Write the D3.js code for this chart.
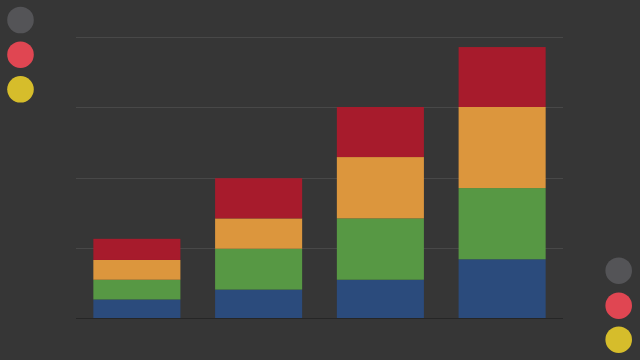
<!DOCTYPE html>
<html>
<head>
<meta charset="utf-8">
<script src="https://cdn.jsdelivr.net/npm/d3@7"></script>
<style>
  html, body { margin: 0; padding: 0; background: #363636; }
  svg { display: block; }
</style>
</head>
<body>
<svg id="chart" width="640" height="360"></svg>
<script>
// Data
const categories = ["A", "B", "C", "D"];
const seriesNames = ["blue", "green", "orange", "red"];
const blueValues   = [2.7, 4.1, 5.5, 8.4];
const greenValues  = [2.8, 5.8, 8.7, 10.1];
const orangeValues = [2.8, 4.3, 8.7, 11.5];
const redValues    = [3.0, 5.7, 7.1, 8.5];
const gridTicks = [0, 10, 20, 30, 40];
const legendColors = ["#545457", "#e04652", "#d6bd2b"];

const colors = { blue: "#2b4b7c", green: "#579844", orange: "#dc963d", red: "#a71b2c" };

const table = categories.map((c, i) => ({
  cat: c, blue: blueValues[i], green: greenValues[i], orange: orangeValues[i], red: redValues[i]
}));

const svg = d3.select("#chart");
svg.append("rect").attr("width", 640).attr("height", 360).attr("fill", "#363636");

const x = d3.scaleBand().domain(categories).range([76, 563]).paddingInner(0.285).paddingOuter(0.1425);
const y = d3.scaleLinear().domain([0, 40]).range([318.5, 36.5]);

// Gridlines
svg.append("g").selectAll("line").data(gridTicks.filter(t => t > 0)).join("line")
  .attr("x1", 76).attr("x2", 563)
  .attr("y1", d => Math.round(y(d)) + 0.5).attr("y2", d => Math.round(y(d)) + 0.5)
  .attr("stroke", "#484848").attr("stroke-width", 1);

// Stacked bars
const stack = d3.stack().keys(seriesNames)(table);
svg.append("g").selectAll("g").data(stack).join("g")
  .attr("fill", d => colors[d.key])
  .selectAll("rect").data(d => d).join("rect")
  .attr("x", d => x(d.data.cat))
  .attr("width", x.bandwidth())
  .attr("y", d => y(d[1]))
  .attr("height", d => y(d[0]) - y(d[1]));

// Baseline
svg.append("line").attr("x1", 76).attr("x2", 563)
  .attr("y1", y(0)).attr("y2", y(0))
  .attr("stroke", "#262626").attr("stroke-width", 1);

// Decorative circles
const leftY = [20, 54.7, 89.3];
const rightY = [270.7, 305.7, 339.7];
svg.append("g").selectAll("circle").data(legendColors).join("circle")
  .attr("cx", 20.5).attr("cy", (d, i) => leftY[i]).attr("r", 13.3).attr("fill", d => d);
svg.append("g").selectAll("circle").data(legendColors).join("circle")
  .attr("cx", 618.7).attr("cy", (d, i) => rightY[i]).attr("r", 13.3).attr("fill", d => d);
</script>
</body>
</html>
